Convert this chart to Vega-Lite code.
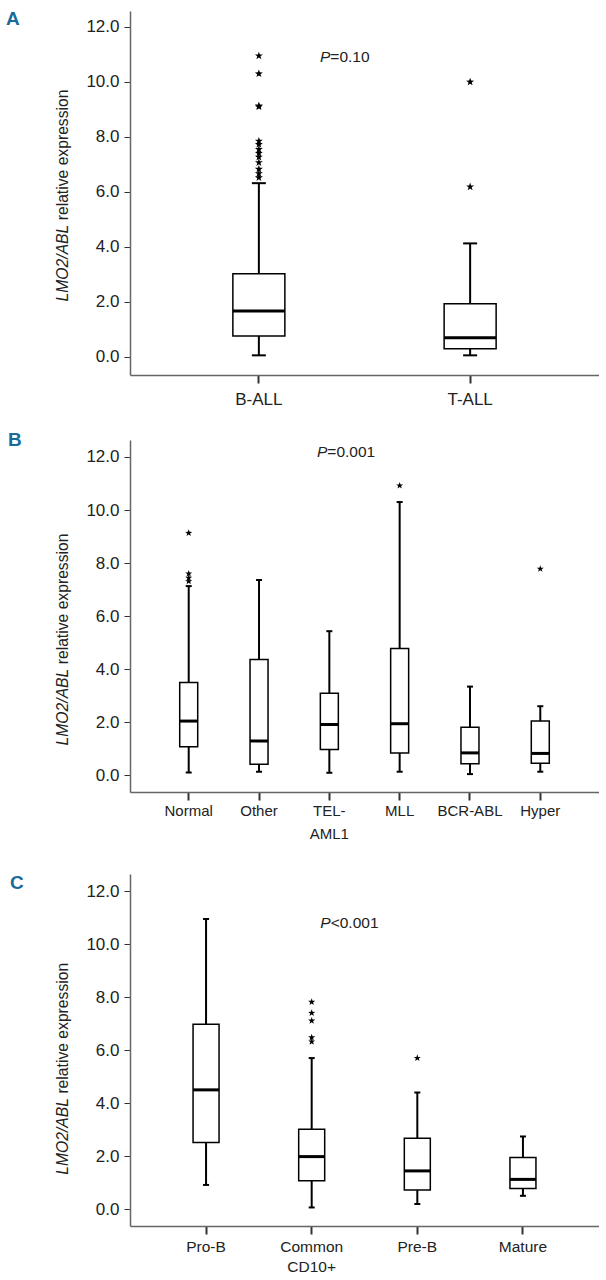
{
  "$schema": "https://vega.github.io/schema/vega-lite/v6.json",
  "background": "white",
  "padding": {"top": 10, "left": 6, "right": 0, "bottom": 0},
  "spacing": 24,
  "config": {
    "view": {"stroke": null},
    "axis": {"grid": false},
    "title": {"font": "Liberation Sans", "fontSize": 19, "fontWeight": "bold", "color": "#1a6b9a", "anchor": "start", "frame": "group", "baseline": "top", "offset": 0}
  },
  "datasets": {
    "a_box": [
      {"group": "B-ALL", "lower": 0.06, "q1": 0.76, "median": 1.67, "q3": 3.03, "upper": 6.32},
      {"group": "T-ALL", "lower": 0.06, "q1": 0.30, "median": 0.70, "q3": 1.94, "upper": 4.13}
    ],
    "a_out": [
      {"group": "B-ALL", "value": 10.95}, {"group": "B-ALL", "value": 10.30}, {"group": "B-ALL", "value": 9.13}, {"group": "B-ALL", "value": 9.10},
      {"group": "B-ALL", "value": 7.85}, {"group": "B-ALL", "value": 7.73}, {"group": "B-ALL", "value": 7.55}, {"group": "B-ALL", "value": 7.41},
      {"group": "B-ALL", "value": 7.27}, {"group": "B-ALL", "value": 7.07}, {"group": "B-ALL", "value": 6.83}, {"group": "B-ALL", "value": 6.67},
      {"group": "B-ALL", "value": 6.52},
      {"group": "T-ALL", "value": 10.0}, {"group": "T-ALL", "value": 6.19}
    ],
    "a_p": [{"group": "B-ALL", "y": 10.89, "p": "P", "rest": "=0.10"}],
    "b_box": [
      {"group": "Normal", "lower": 0.10, "q1": 1.07, "median": 2.04, "q3": 3.49, "upper": 7.13},
      {"group": "Other", "lower": 0.13, "q1": 0.41, "median": 1.29, "q3": 4.36, "upper": 7.36},
      {"group": "TEL-AML1", "lower": 0.09, "q1": 0.97, "median": 1.91, "q3": 3.09, "upper": 5.43},
      {"group": "MLL", "lower": 0.13, "q1": 0.84, "median": 1.94, "q3": 4.78, "upper": 10.30},
      {"group": "BCR-ABL", "lower": 0.04, "q1": 0.43, "median": 0.84, "q3": 1.81, "upper": 3.34},
      {"group": "Hyper", "lower": 0.13, "q1": 0.45, "median": 0.82, "q3": 2.04, "upper": 2.60}
    ],
    "b_out": [
      {"group": "Normal", "value": 9.13}, {"group": "Normal", "value": 7.60}, {"group": "Normal", "value": 7.44}, {"group": "Normal", "value": 7.31},
      {"group": "MLL", "value": 10.92}, {"group": "Hyper", "value": 7.78}
    ],
    "b_p": [{"group": "TEL-AML1", "y": 12.18, "p": "P", "rest": "=0.001"}],
    "c_box": [
      {"group": "Pro-B", "lower": 0.91, "q1": 2.51, "median": 4.50, "q3": 6.98, "upper": 10.95},
      {"group": "Common CD10+", "lower": 0.06, "q1": 1.07, "median": 1.98, "q3": 3.01, "upper": 5.70},
      {"group": "Pre-B", "lower": 0.19, "q1": 0.72, "median": 1.44, "q3": 2.67, "upper": 4.40},
      {"group": "Mature", "lower": 0.50, "q1": 0.78, "median": 1.12, "q3": 1.95, "upper": 2.74}
    ],
    "c_out": [
      {"group": "Common CD10+", "value": 7.82}, {"group": "Common CD10+", "value": 7.40}, {"group": "Common CD10+", "value": 7.11},
      {"group": "Common CD10+", "value": 6.48}, {"group": "Common CD10+", "value": 6.32}, {"group": "Pre-B", "value": 5.70}
    ],
    "c_p": [{"group": "Common CD10+", "y": 10.81, "p": "P", "rest": "<0.001"}]
  },
  "vconcat": [
    {
      "width": 469, "height": 364,
      "title": {"text": "A", "dx": -124, "dy": 22},
      "resolve": {"axis": {"y": "independent"}},
      "layer": [
        {"data": {"name": "a_box"}, "mark": {"type": "rule", "color": "black", "strokeWidth": 2},
         "encoding": {
           "x": {"field": "group", "type": "nominal", "sort": ["B-ALL", "T-ALL"], "scale": {"type": "band", "paddingInner": 0, "paddingOuter": 0.11},
                 "axis": {"title": null, "labelAngle": 0, "labelFont": "Liberation Sans", "labelFontSize": 17, "labelColor": "#222", "tickSize": 8, "tickColor": "#333", "tickWidth": 2, "domainColor": "#666", "domainWidth": 1.5, "labelPadding": 8}},
           "y": {"field": "lower", "type": "quantitative", "scale": {"domain": [-0.655, 12.58], "nice": false, "zero": false},
                 "axis": {"values": [0, 2, 4, 6, 8, 10, 12], "format": ".1f", "labelFont": "Liberation Sans", "labelFontSize": 17, "labelColor": "#222", "tickSize": 6, "tickWidth": 1, "tickColor": "#333", "labelPadding": 5, "domainColor": "#666", "domainWidth": 1.5,
                          "title": "relative expression", "titleFont": "Liberation Sans", "titleFontSize": 15.7, "titleFontWeight": "normal", "titleColor": "#222", "titleAngle": 270, "titleAlign": "left", "titleBaseline": "alphabetic", "titleX": -63, "titleY": 208.8}},
           "y2": {"field": "upper"}
         }},
        {"data": {"name": "a_box"}, "mark": {"type": "bar", "size": 52, "fill": "white", "stroke": "black", "strokeWidth": 1.5},
         "encoding": {
           "x": {"field": "group", "type": "nominal", "sort": ["B-ALL", "T-ALL"]},
           "y": {"field": "q1", "type": "quantitative",
                 "axis": {"orient": "right", "domain": false, "ticks": false, "labels": false, "title": "LMO2/ABL", "titleFont": "Liberation Sans", "titleFontSize": 15.7, "titleFontWeight": "normal", "titleFontStyle": "italic", "titleColor": "#222", "titleAngle": 270, "titleAlign": "right", "titleBaseline": "alphabetic", "titleX": -532, "titleY": 213.2}},
           "y2": {"field": "q3"}
         }},
        {"data": {"name": "a_box"}, "mark": {"type": "tick", "size": 52, "thickness": 3, "color": "black", "opacity": 1},
         "encoding": {"x": {"field": "group", "type": "nominal", "sort": ["B-ALL", "T-ALL"]}, "y": {"field": "median", "type": "quantitative", "axis": null}}},
        {"data": {"name": "a_box"}, "mark": {"type": "tick", "size": 14, "thickness": 2, "color": "black", "opacity": 1},
         "encoding": {"x": {"field": "group", "type": "nominal", "sort": ["B-ALL", "T-ALL"]}, "y": {"field": "lower", "type": "quantitative", "axis": null}}},
        {"data": {"name": "a_box"}, "mark": {"type": "tick", "size": 14, "thickness": 2, "color": "black", "opacity": 1},
         "encoding": {"x": {"field": "group", "type": "nominal", "sort": ["B-ALL", "T-ALL"]}, "y": {"field": "upper", "type": "quantitative", "axis": null}}},
        {"data": {"name": "a_out"}, "mark": {"type": "point", "shape": "M0,-1L0.235,-0.324L0.951,-0.309L0.38,0.124L0.588,0.809L0,0.4L-0.588,0.809L-0.38,0.124L-0.951,-0.309L-0.235,-0.324Z", "size": 70, "filled": true, "color": "black", "opacity": 1},
         "encoding": {"x": {"field": "group", "type": "nominal", "sort": ["B-ALL", "T-ALL"]}, "y": {"field": "value", "type": "quantitative", "axis": null}}},
        {"data": {"name": "a_p"}, "mark": {"type": "text", "align": "right", "baseline": "middle", "dx": 71.5, "font": "Liberation Sans", "fontSize": 15.5, "fontStyle": "italic", "color": "#222"},
         "encoding": {"x": {"field": "group", "type": "nominal", "sort": ["B-ALL", "T-ALL"]}, "y": {"field": "y", "type": "quantitative", "axis": null}, "text": {"field": "p"}}},
        {"data": {"name": "a_p"}, "mark": {"type": "text", "align": "left", "baseline": "middle", "dx": 71.5, "font": "Liberation Sans", "fontSize": 15.5, "color": "#222"},
         "encoding": {"x": {"field": "group", "type": "nominal", "sort": ["B-ALL", "T-ALL"]}, "y": {"field": "y", "type": "quantitative", "axis": null}, "text": {"field": "rest"}}}
      ]
    },
    {
      "width": 469, "height": 352,
      "title": {"text": "B", "dx": -122, "dy": 14},
      "resolve": {"axis": {"y": "independent"}},
      "layer": [
        {"data": {"name": "b_box"}, "mark": {"type": "rule", "color": "black", "strokeWidth": 2},
         "encoding": {
           "x": {"field": "group", "type": "nominal", "sort": ["Normal", "Other", "TEL-AML1", "MLL", "BCR-ABL", "Hyper"], "scale": {"type": "band", "paddingInner": 0, "paddingOuter": 0.335},
                 "axis": {"title": "\u00a0", "titleFontSize": 1, "titlePadding": 8, "labelAngle": 0, "labelFont": "Liberation Sans", "labelFontSize": 15, "labelColor": "#222", "tickSize": 8, "tickColor": "#333", "tickWidth": 2, "domainColor": "#666", "domainWidth": 1.5, "labelPadding": 3, "labelLineHeight": 23,
                          "labelExpr": "datum.value == 'TEL-AML1' ? ['TEL-', 'AML1'] : datum.value"}},
           "y": {"field": "lower", "type": "quantitative", "scale": {"domain": [-0.635, 12.64], "nice": false, "zero": false},
                 "axis": {"values": [0, 2, 4, 6, 8, 10, 12], "format": ".1f", "labelFont": "Liberation Sans", "labelFontSize": 17, "labelColor": "#222", "tickSize": 6, "tickWidth": 1, "tickColor": "#333", "labelPadding": 5, "domainColor": "#666", "domainWidth": 1.5,
                          "title": "relative expression", "titleFont": "Liberation Sans", "titleFontSize": 15.7, "titleFontWeight": "normal", "titleColor": "#222", "titleAngle": 270, "titleAlign": "left", "titleBaseline": "alphabetic", "titleX": -63, "titleY": 223.8}},
           "y2": {"field": "upper"}
         }},
        {"data": {"name": "b_box"}, "mark": {"type": "bar", "size": 18, "fill": "white", "stroke": "black", "strokeWidth": 1.5},
         "encoding": {
           "x": {"field": "group", "type": "nominal", "sort": ["Normal", "Other", "TEL-AML1", "MLL", "BCR-ABL", "Hyper"]},
           "y": {"field": "q1", "type": "quantitative",
                 "axis": {"orient": "right", "domain": false, "ticks": false, "labels": false, "title": "LMO2/ABL", "titleFont": "Liberation Sans", "titleFontSize": 15.7, "titleFontWeight": "normal", "titleFontStyle": "italic", "titleColor": "#222", "titleAngle": 270, "titleAlign": "right", "titleBaseline": "alphabetic", "titleX": -532, "titleY": 228.2}},
           "y2": {"field": "q3"}
         }},
        {"data": {"name": "b_box"}, "mark": {"type": "tick", "size": 18, "thickness": 3, "color": "black", "opacity": 1},
         "encoding": {"x": {"field": "group", "type": "nominal", "sort": ["Normal", "Other", "TEL-AML1", "MLL", "BCR-ABL", "Hyper"]}, "y": {"field": "median", "type": "quantitative", "axis": null}}},
        {"data": {"name": "b_box"}, "mark": {"type": "tick", "size": 6, "thickness": 2, "color": "black", "opacity": 1},
         "encoding": {"x": {"field": "group", "type": "nominal", "sort": ["Normal", "Other", "TEL-AML1", "MLL", "BCR-ABL", "Hyper"]}, "y": {"field": "lower", "type": "quantitative", "axis": null}}},
        {"data": {"name": "b_box"}, "mark": {"type": "tick", "size": 6, "thickness": 2, "color": "black", "opacity": 1},
         "encoding": {"x": {"field": "group", "type": "nominal", "sort": ["Normal", "Other", "TEL-AML1", "MLL", "BCR-ABL", "Hyper"]}, "y": {"field": "upper", "type": "quantitative", "axis": null}}},
        {"data": {"name": "b_out"}, "mark": {"type": "point", "shape": "M0,-1L0.235,-0.324L0.951,-0.309L0.38,0.124L0.588,0.809L0,0.4L-0.588,0.809L-0.38,0.124L-0.951,-0.309L-0.235,-0.324Z", "size": 55, "filled": true, "color": "black", "opacity": 1},
         "encoding": {"x": {"field": "group", "type": "nominal", "sort": ["Normal", "Other", "TEL-AML1", "MLL", "BCR-ABL", "Hyper"]}, "y": {"field": "value", "type": "quantitative", "axis": null}}},
        {"data": {"name": "b_p"}, "mark": {"type": "text", "align": "right", "baseline": "middle", "dx": -2, "font": "Liberation Sans", "fontSize": 15.5, "fontStyle": "italic", "color": "#222"},
         "encoding": {"x": {"field": "group", "type": "nominal", "sort": ["Normal", "Other", "TEL-AML1", "MLL", "BCR-ABL", "Hyper"]}, "y": {"field": "y", "type": "quantitative", "axis": null}, "text": {"field": "p"}}},
        {"data": {"name": "b_p"}, "mark": {"type": "text", "align": "left", "baseline": "middle", "dx": -2, "font": "Liberation Sans", "fontSize": 15.5, "color": "#222"},
         "encoding": {"x": {"field": "group", "type": "nominal", "sort": ["Normal", "Other", "TEL-AML1", "MLL", "BCR-ABL", "Hyper"]}, "y": {"field": "y", "type": "quantitative", "axis": null}, "text": {"field": "rest"}}}
      ]
    },
    {
      "width": 469, "height": 352,
      "title": {"text": "C", "dx": -120, "dy": 23},
      "resolve": {"axis": {"y": "independent"}},
      "layer": [
        {"data": {"name": "c_box"}, "mark": {"type": "rule", "color": "black", "strokeWidth": 2},
         "encoding": {
           "x": {"field": "group", "type": "nominal", "sort": ["Pro-B", "Common CD10+", "Pre-B", "Mature"], "scale": {"type": "band", "paddingInner": 0, "paddingOuter": 0.22},
                 "axis": {"title": null, "labelAngle": 0, "labelFont": "Liberation Sans", "labelFontSize": 15.5, "labelColor": "#222", "tickSize": 8, "tickColor": "#333", "tickWidth": 2, "domainColor": "#666", "domainWidth": 1.5, "labelPadding": 5, "labelLineHeight": 20,
                          "labelExpr": "datum.value == 'Common CD10+' ? ['Common', 'CD10+'] : datum.value"}},
           "y": {"field": "lower", "type": "quantitative", "scale": {"domain": [-0.64, 12.65], "nice": false, "zero": false},
                 "axis": {"values": [0, 2, 4, 6, 8, 10, 12], "format": ".1f", "labelFont": "Liberation Sans", "labelFontSize": 17, "labelColor": "#222", "tickSize": 6, "tickWidth": 1, "tickColor": "#333", "labelPadding": 5, "domainColor": "#666", "domainWidth": 1.5,
                          "title": "relative expression", "titleFont": "Liberation Sans", "titleFontSize": 15.7, "titleFontWeight": "normal", "titleColor": "#222", "titleAngle": 270, "titleAlign": "left", "titleBaseline": "alphabetic", "titleX": -63, "titleY": 219.1}},
           "y2": {"field": "upper"}
         }},
        {"data": {"name": "c_box"}, "mark": {"type": "bar", "size": 26, "fill": "white", "stroke": "black", "strokeWidth": 1.5},
         "encoding": {
           "x": {"field": "group", "type": "nominal", "sort": ["Pro-B", "Common CD10+", "Pre-B", "Mature"]},
           "y": {"field": "q1", "type": "quantitative",
                 "axis": {"orient": "right", "domain": false, "ticks": false, "labels": false, "title": "LMO2/ABL", "titleFont": "Liberation Sans", "titleFontSize": 15.7, "titleFontWeight": "normal", "titleFontStyle": "italic", "titleColor": "#222", "titleAngle": 270, "titleAlign": "right", "titleBaseline": "alphabetic", "titleX": -532, "titleY": 223.5}},
           "y2": {"field": "q3"}
         }},
        {"data": {"name": "c_box"}, "mark": {"type": "tick", "size": 26, "thickness": 3, "color": "black", "opacity": 1},
         "encoding": {"x": {"field": "group", "type": "nominal", "sort": ["Pro-B", "Common CD10+", "Pre-B", "Mature"]}, "y": {"field": "median", "type": "quantitative", "axis": null}}},
        {"data": {"name": "c_box"}, "mark": {"type": "tick", "size": 6, "thickness": 2, "color": "black", "opacity": 1},
         "encoding": {"x": {"field": "group", "type": "nominal", "sort": ["Pro-B", "Common CD10+", "Pre-B", "Mature"]}, "y": {"field": "lower", "type": "quantitative", "axis": null}}},
        {"data": {"name": "c_box"}, "mark": {"type": "tick", "size": 6, "thickness": 2, "color": "black", "opacity": 1},
         "encoding": {"x": {"field": "group", "type": "nominal", "sort": ["Pro-B", "Common CD10+", "Pre-B", "Mature"]}, "y": {"field": "upper", "type": "quantitative", "axis": null}}},
        {"data": {"name": "c_out"}, "mark": {"type": "point", "shape": "M0,-1L0.235,-0.324L0.951,-0.309L0.38,0.124L0.588,0.809L0,0.4L-0.588,0.809L-0.38,0.124L-0.951,-0.309L-0.235,-0.324Z", "size": 55, "filled": true, "color": "black", "opacity": 1},
         "encoding": {"x": {"field": "group", "type": "nominal", "sort": ["Pro-B", "Common CD10+", "Pre-B", "Mature"]}, "y": {"field": "value", "type": "quantitative", "axis": null}}},
        {"data": {"name": "c_p"}, "mark": {"type": "text", "align": "right", "baseline": "middle", "dx": 19, "font": "Liberation Sans", "fontSize": 15.5, "fontStyle": "italic", "color": "#222"},
         "encoding": {"x": {"field": "group", "type": "nominal", "sort": ["Pro-B", "Common CD10+", "Pre-B", "Mature"]}, "y": {"field": "y", "type": "quantitative", "axis": null}, "text": {"field": "p"}}},
        {"data": {"name": "c_p"}, "mark": {"type": "text", "align": "left", "baseline": "middle", "dx": 19, "font": "Liberation Sans", "fontSize": 15.5, "color": "#222"},
         "encoding": {"x": {"field": "group", "type": "nominal", "sort": ["Pro-B", "Common CD10+", "Pre-B", "Mature"]}, "y": {"field": "y", "type": "quantitative", "axis": null}, "text": {"field": "rest"}}}
      ]
    }
  ]
}
